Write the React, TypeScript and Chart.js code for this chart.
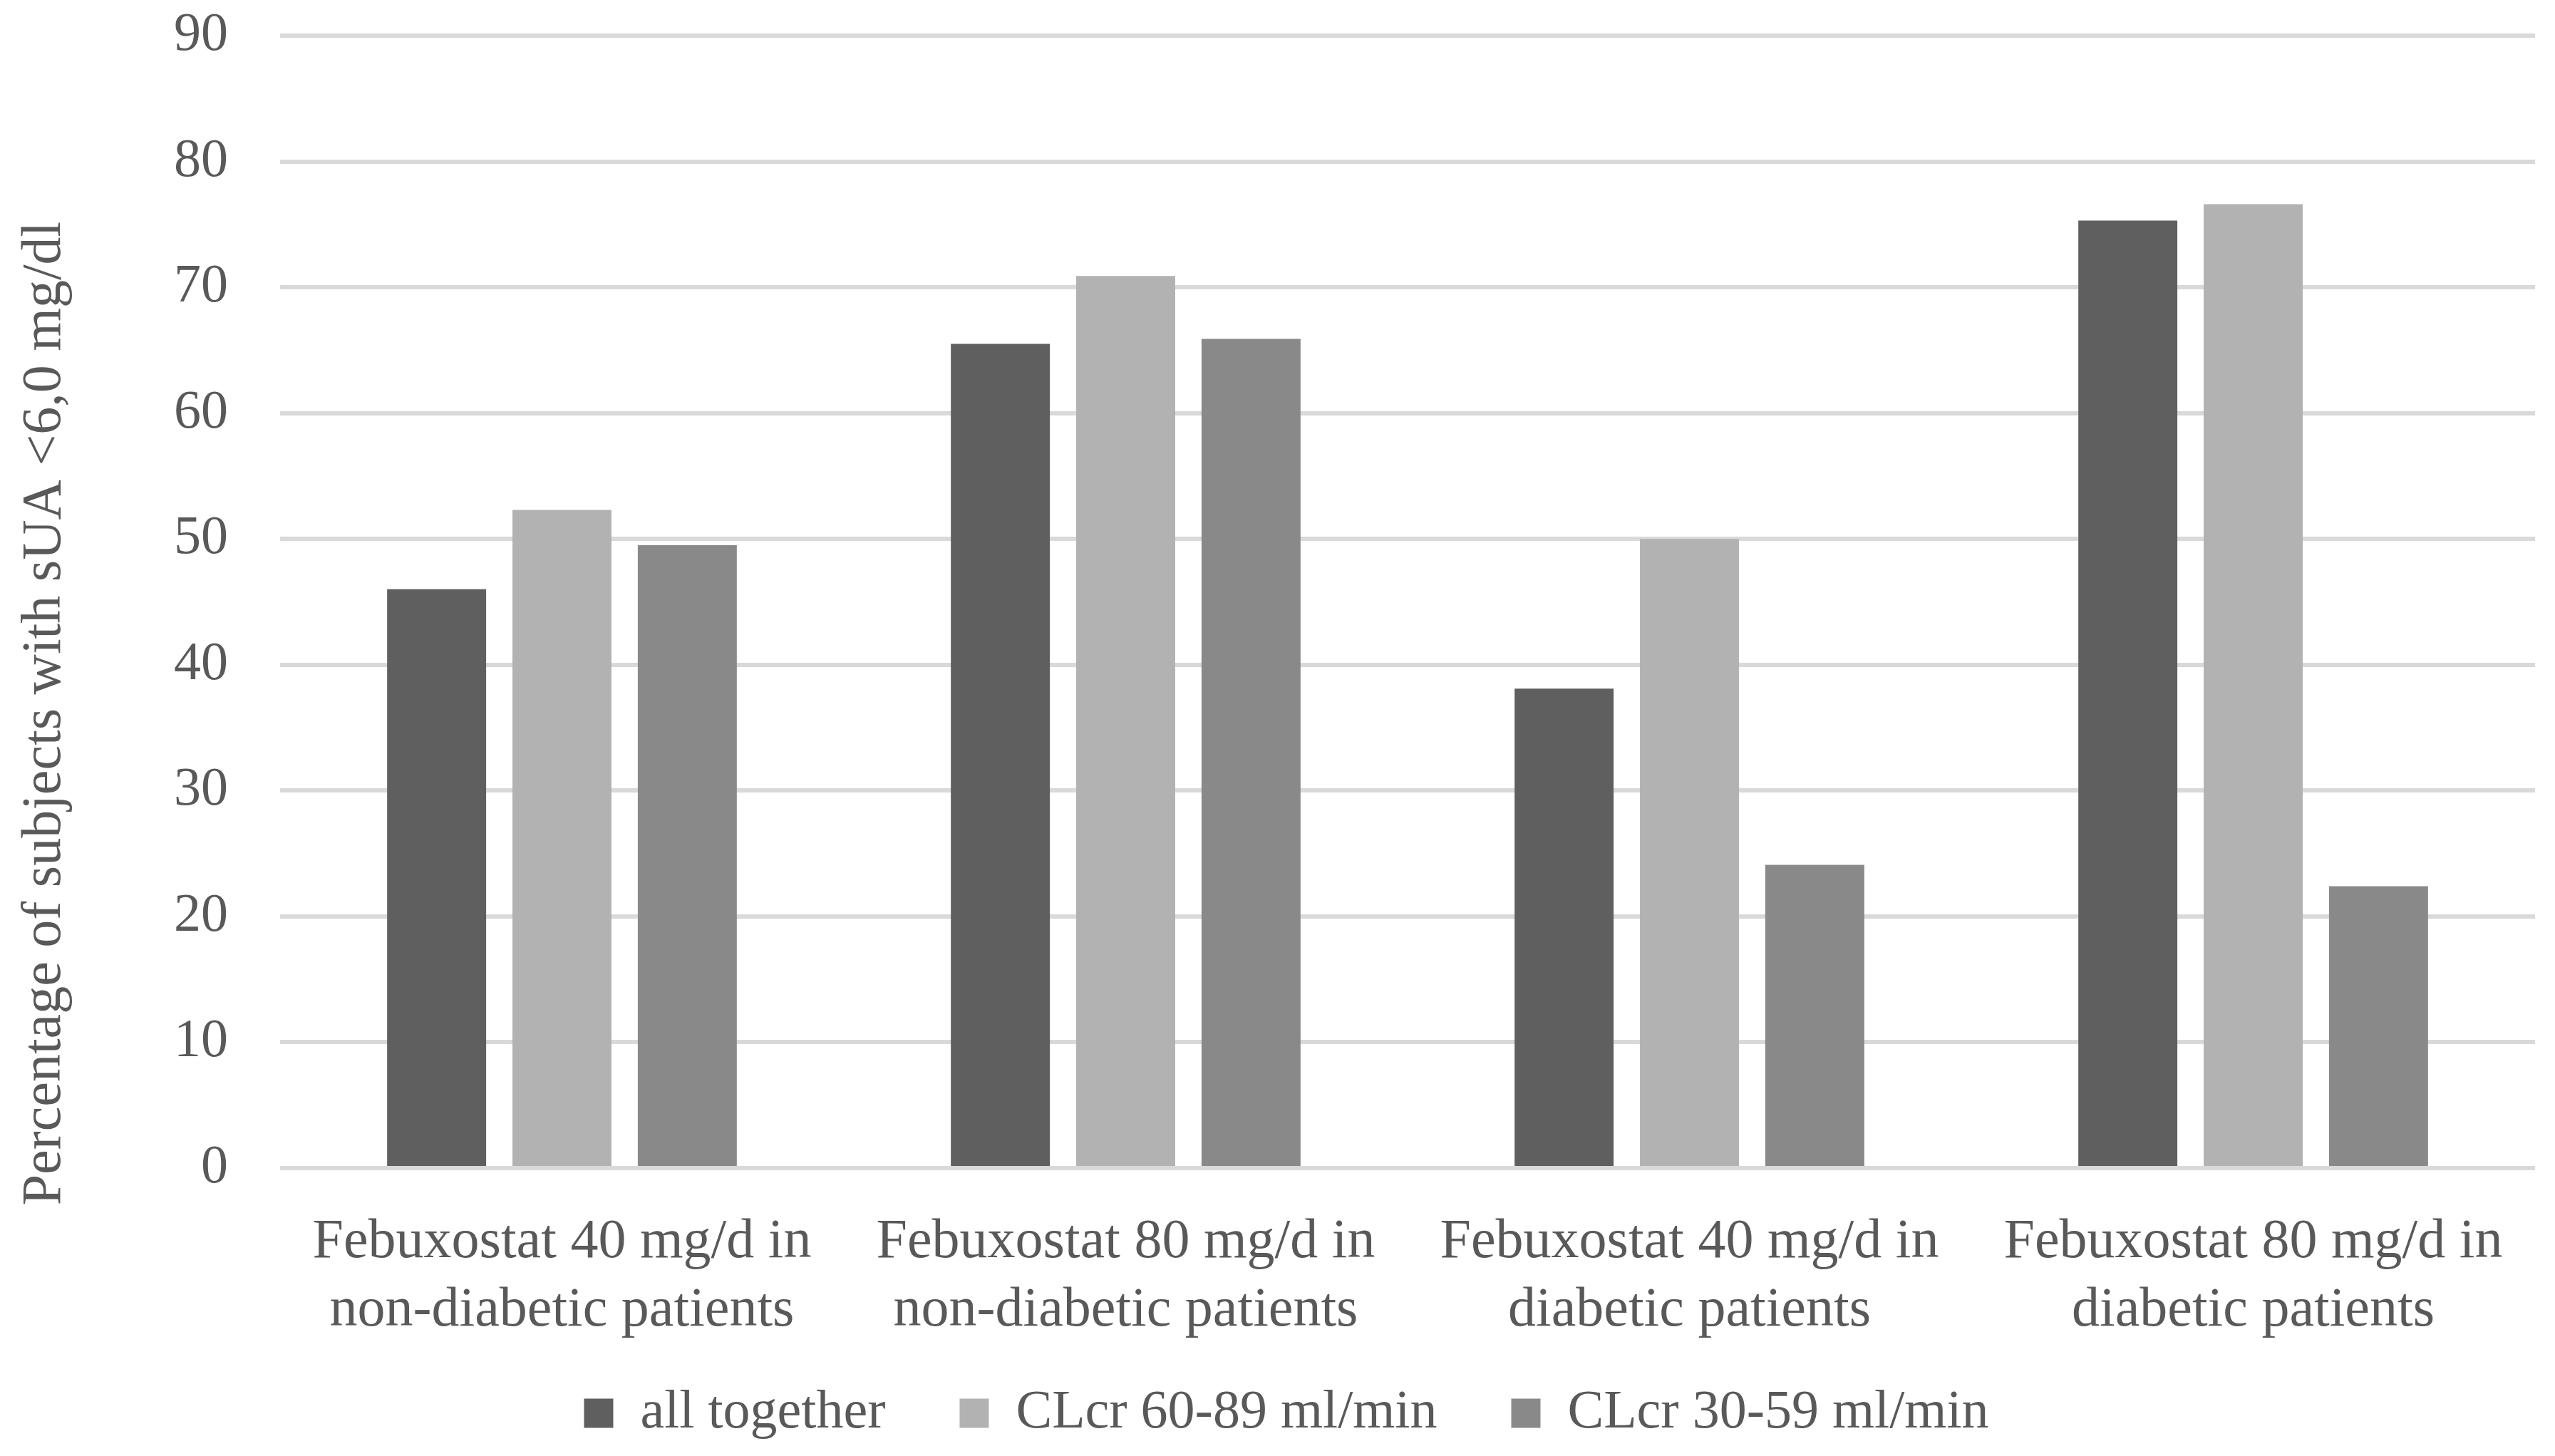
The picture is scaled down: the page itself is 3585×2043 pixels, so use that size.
import React, { useEffect, useRef } from "react";
import { Chart, registerables } from "chart.js";

Chart.register(...registerables);

const W = 3585;
const H = 2043;

const categories: string[][] = [
  ["Febuxostat 40 mg/d in", "non-diabetic patients"],
  ["Febuxostat 80 mg/d in", "non-diabetic patients"],
  ["Febuxostat 40 mg/d in", "diabetic patients"],
  ["Febuxostat 80 mg/d in", "diabetic patients"],
];
const seriesNames = ["all together", "CLcr 60-89 ml/min", "CLcr 30-59 ml/min"];
const allTogether = [46.0, 65.5, 38.1, 75.3];
const clcr6089 = [52.3, 70.9, 50.0, 76.6];
const clcr3059 = [49.5, 65.9, 24.1, 22.4];
const seriesColors = ["#5f5f5f", "#b2b2b2", "#898989"];
const yMin = 0;
const yMax = 90;
const yStep = 10;
const yAxisTitle = "Percentage of subjects with sUA <6,0 mg/dl";

const FONT = "'Liberation Serif', 'Times New Roman', serif";
const TEXT = "#595959";
const FS_TICK = 76;
const FS_LABEL = 78;
const FS_LEGEND = 76;

const PAD_L = 53;
const PAD_R = 28;
const PAD_T = 50;
const PLOT_LEFT = 393;
const PLOT_BOTTOM = 1639;
const X_AXIS_H = 250;
const LEGEND_PAD = 104;
const LEGEND_CY = 1983;

const yTitlePlugin = {
  id: "yTitle",
  afterDraw(chart: any) {
    const ctx = chart.ctx;
    ctx.save();
    ctx.translate(64, 1001);
    ctx.rotate(-Math.PI / 2);
    ctx.font = `${FS_LABEL}px ${FONT}`;
    ctx.fillStyle = TEXT;
    ctx.textAlign = "center";
    ctx.textBaseline = "middle";
    ctx.fillText(yAxisTitle, 0, 0);
    ctx.restore();
  },
};

const legendShiftPlugin = {
  id: "legendShift",
  afterLayout(chart: any) {
    const lg = chart.legend;
    if (!lg) return;
    const top = LEGEND_CY - LEGEND_PAD - FS_LEGEND / 2;
    lg.top = top;
    lg.bottom = H;
    lg.height = H - top;
  },
};

export default function App() {
  const ref = useRef<HTMLCanvasElement | null>(null);

  useEffect(() => {
    document.body.style.margin = "0";
    const canvas = ref.current;
    if (!canvas) return;
    const values = [allTogether, clcr6089, clcr3059];
    const chart = new Chart(canvas, {
      type: "bar",
      data: {
        labels: categories,
        datasets: seriesNames.map((name, i) => ({
          label: name,
          data: values[i],
          backgroundColor: seriesColors[i],
          borderWidth: 0,
          categoryPercentage: 0.667,
          barPercentage: 0.79,
        })),
      },
      options: {
        responsive: false,
        animation: false,
        devicePixelRatio: 1,
        layout: { padding: { top: PAD_T, right: PAD_R, bottom: 0, left: PAD_L } },
        plugins: {
          legend: {
            position: "bottom",
            maxHeight: H - PLOT_BOTTOM - X_AXIS_H,
            labels: {
              boxWidth: 41,
              boxHeight: 41,
              padding: LEGEND_PAD,
              color: TEXT,
              font: { family: FONT, size: FS_LEGEND },
            },
          },
          tooltip: { enabled: false },
          title: { display: false },
        },
        scales: {
          x: {
            grid: { display: false, drawTicks: false },
            border: { display: false },
            ticks: {
              color: TEXT,
              font: { family: FONT, size: FS_LABEL, lineHeight: 96 / FS_LABEL },
              padding: 57,
              maxRotation: 0,
              autoSkip: false,
            },
            afterFit: (s: any) => {
              s.height = X_AXIS_H;
            },
          },
          y: {
            min: yMin,
            max: yMax,
            grid: { color: "#d9d9d9", lineWidth: 6, drawTicks: false },
            border: { display: false },
            ticks: {
              stepSize: yStep,
              color: TEXT,
              font: { family: FONT, size: FS_TICK },
              padding: 73,
            },
            afterFit: (s: any) => {
              s.width = PLOT_LEFT - PAD_L;
              s.paddingTop = 0;
              s.paddingBottom = 0;
            },
          },
        },
      },
      plugins: [yTitlePlugin, legendShiftPlugin],
    });
    return () => chart.destroy();
  }, []);

  return (
    <div style={{ position: "fixed", left: 0, top: 0, width: W, height: H, background: "#fff" }}>
      <canvas ref={ref} width={W} height={H} style={{ width: W, height: H, display: "block" }} />
    </div>
  );
}
